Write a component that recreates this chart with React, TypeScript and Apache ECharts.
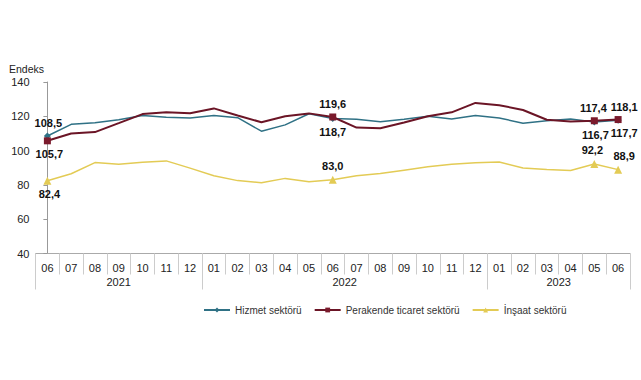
import React, { useEffect, useRef } from "react";
import * as echarts from "echarts";

const months = ["06","07","08","09","10","11","12","01","02","03","04","05","06","07","08","09","10","11","12","01","02","03","04","05","06"];
const years = ["2021", "2022", "2023"];
const yearCenters = [3, 12.5, 21.5];
const yearBounds = [-0.5, 6.5, 18.5, 24.5];

const hizmet = [108.5, 115.3, 116.3, 118, 120.5, 119.5, 119, 120.4, 119.2, 111.3, 115, 121.5, 118.7, 118.3, 116.8, 118.3, 120, 118.4, 120.5, 119, 116, 117.4, 118.4, 116.7, 117.7];
const perakende = [105.7, 110, 110.8, 116, 121.3, 122.3, 121.8, 124.6, 120.5, 116.5, 120, 121.7, 119.6, 113.4, 113, 116.4, 120, 122.3, 127.8, 126.5, 123.7, 118, 117, 117.4, 118.1];
const insaat = [82.4, 86.5, 93, 92, 93.2, 94, 89.8, 85.3, 82.5, 81.3, 83.8, 81.8, 83.0, 85.4, 86.6, 88.6, 90.6, 92, 92.9, 93.4, 89.8, 89, 88.4, 92.2, 88.9];

type Lab = { pos: string; dx: number };
const hizmetLabels: Record<number, Lab> = { 0: { pos: "top", dx: 1 }, 12: { pos: "bottom", dx: 0 }, 23: { pos: "bottom", dx: 1 }, 24: { pos: "bottom", dx: 6 } };
const perakendeLabels: Record<number, Lab> = { 0: { pos: "bottom", dx: 2 }, 12: { pos: "top", dx: 0 }, 23: { pos: "top", dx: -1 }, 24: { pos: "top", dx: 6 } };
const insaatLabels: Record<number, Lab> = { 0: { pos: "bottom", dx: 2 }, 12: { pos: "top", dx: 0 }, 23: { pos: "top", dx: -2 }, 24: { pos: "top", dx: 6 } };

const fmt = (v: number) => v.toFixed(1).replace(".", ",");

function build(values: number[], labels: Record<number, Lab>, size: number) {
  return values.map((v, i) => {
    const l = labels[i];
    if (l === undefined) return { value: v, symbolSize: 0 };
    return {
      value: v,
      symbolSize: size,
      label: {
        show: true,
        position: l.pos,
        distance: 4,
        offset: [l.dx, 0],
        formatter: () => fmt(v),
        color: "#111",
        fontWeight: "bold",
        fontSize: 11,
        fontFamily: "Liberation Sans, Arial, sans-serif",
      },
    };
  });
}

export default function App() {
  const ref = useRef<HTMLDivElement>(null);
  useEffect(() => {
    const chart = echarts.init(ref.current!, null, { renderer: "svg" });
    const font = "Liberation Sans, Arial, sans-serif";
    chart.setOption({
      animation: false,
      backgroundColor: "#fff",
      title: {
        text: "Endeks",
        left: 4,
        top: 58,
        textStyle: { fontSize: 10.5, fontWeight: "normal", color: "#222", fontFamily: font },
      },
      legend: {
        bottom: 60,
        left: 198,
        itemWidth: 26,
        itemHeight: 6,
        itemGap: 12,
        textStyle: { fontSize: 10, color: "#333", fontFamily: font },
        data: ["Hizmet sektörü", "Perakende ticaret sektörü", "İnşaat sektörü"],
      },
      grid: { left: 35.5, right: 11, top: 82, height: 171.5 },
      xAxis: [
        {
          type: "category",
          data: months,
          boundaryGap: true,
          axisLine: { lineStyle: { color: "#aaa" } },
          axisTick: { show: true, interval: 0, length: 21, lineStyle: { color: "#ccc" } },
          axisLabel: { interval: 0, margin: 9, fontSize: 11, color: "#222", fontFamily: font },
        },
        {
          type: "value",
          min: -0.5,
          max: 24.5,
          position: "bottom",
          axisLine: { show: false },
          splitLine: { show: false },
          axisTick: { show: true, customValues: yearBounds, length: 36, lineStyle: { color: "#ccc" } },
          axisLabel: {
            customValues: yearCenters,
            margin: 23,
            fontSize: 11,
            color: "#222",
            fontFamily: font,
            formatter: (v: number) => years[yearCenters.indexOf(v)] ?? "",
          },
        },
      ],
      yAxis: {
        type: "value",
        min: 40,
        max: 140,
        interval: 20,
        axisLine: { show: true, lineStyle: { color: "#999" } },
        axisTick: { show: true, length: 4, lineStyle: { color: "#999" } },
        splitLine: { show: false },
        axisLabel: { fontSize: 11, color: "#222", margin: 6, fontFamily: font },
      },
      series: [
        {
          name: "Hizmet sektörü",
          type: "line",
          xAxisIndex: 0,
          symbol: "diamond",
          showAllSymbol: true,
          color: "#2F7185",
          lineStyle: { width: 1.5, color: "#2F7185" },
          data: build(hizmet, hizmetLabels, 7),
          z: 3,
        },
        {
          name: "Perakende ticaret sektörü",
          type: "line",
          xAxisIndex: 0,
          symbol: "rect",
          showAllSymbol: true,
          color: "#7A1A2C",
          lineStyle: { width: 2, color: "#6B1526" },
          data: build(perakende, perakendeLabels, 7),
          z: 4,
        },
        {
          name: "İnşaat sektörü",
          type: "line",
          xAxisIndex: 0,
          symbol: "triangle",
          showAllSymbol: true,
          color: "#E3CB55",
          lineStyle: { width: 1.5, color: "#E3CB55" },
          data: build(insaat, insaatLabels, 8),
          z: 2,
        },
      ],
    });
    return () => chart.dispose();
  }, []);
  return (
    <div
      ref={ref}
      style={{ position: "absolute", left: 0, top: 0, width: 641, height: 380, background: "#fff" }}
    />
  );
}
